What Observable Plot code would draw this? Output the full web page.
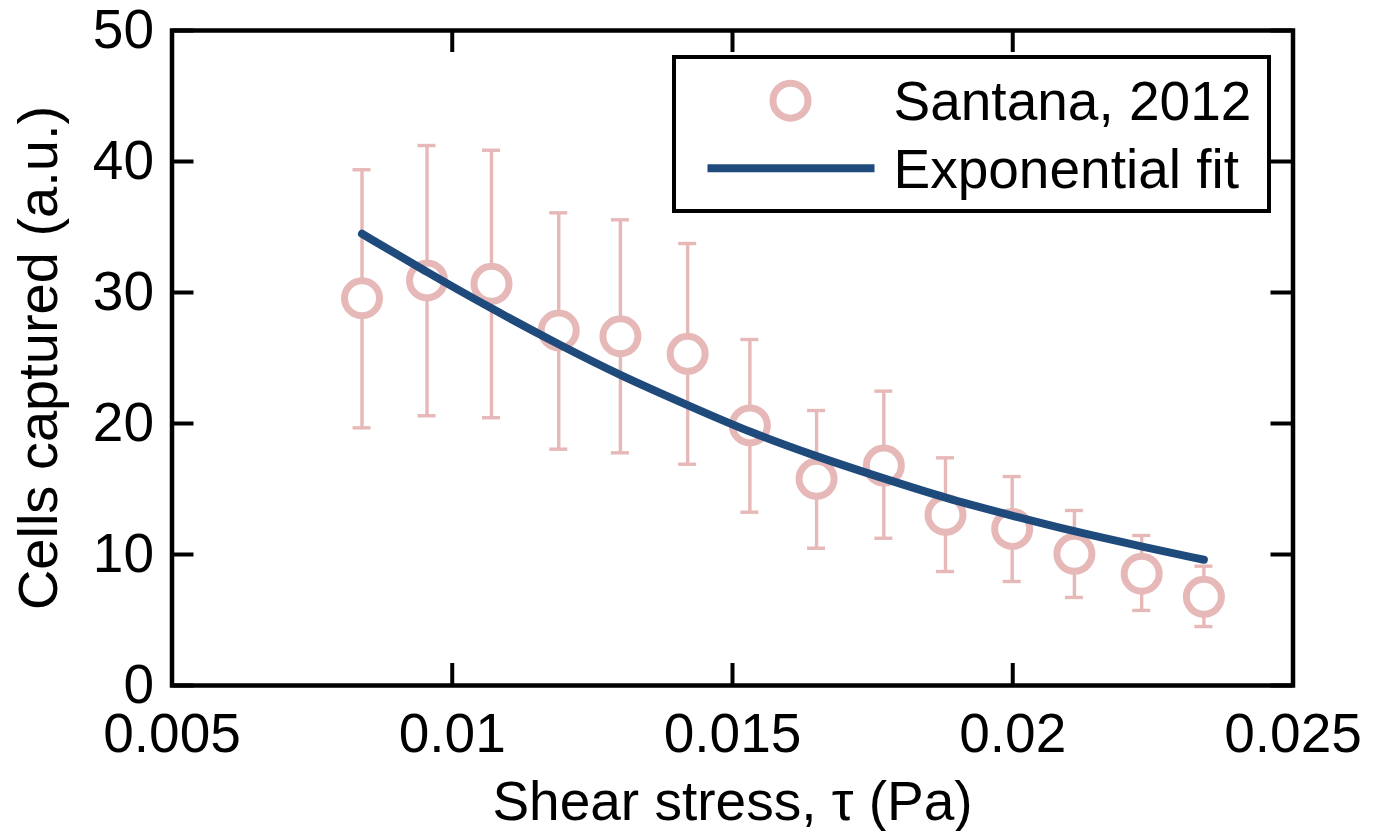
<!DOCTYPE html>
<html><head><meta charset="utf-8">
<script src="https://cdn.jsdelivr.net/npm/d3@7"></script>
<script src="https://cdn.jsdelivr.net/npm/@observablehq/plot@0.6"></script>
<style>
body{margin:0;background:#fff;}
#wrap{position:relative;width:1380px;height:831px;font-family:"Liberation Sans",Arial,sans-serif;}
#legend{position:absolute;left:672px;top:54.5px;width:591px;height:150.5px;border:4.5px solid #000;background:#fff;}
#legend svg{display:block;}
</style></head><body><div id="wrap"></div>
<script>
const shearStress = [0.00839, 0.00955, 0.01070, 0.01190, 0.01300, 0.01420, 0.01531, 0.01650, 0.01770, 0.01880, 0.01999, 0.02110, 0.02230, 0.02341];
const cellsMean   = [29.56, 30.92, 30.66, 27.10, 26.66, 25.32, 19.85, 15.78, 16.79, 13.03, 11.95, 10.05, 8.53, 6.77];
const cellsUpper  = [39.37, 41.22, 40.86, 36.08, 35.55, 33.74, 26.41, 20.99, 22.47, 17.38, 15.95, 13.36, 11.45, 9.11];
const cellsLower  = [19.67, 20.59, 20.44, 18.04, 17.76, 16.89, 13.23, 10.48, 11.24, 8.70, 7.94, 6.72, 5.73, 4.50];
const fitShear = [0.00839, 0.00955, 0.01070, 0.01190, 0.01300, 0.01420, 0.01532, 0.01651, 0.01770, 0.01880, 0.02000, 0.02110, 0.02231, 0.02341];
const fitCells = [34.48, 31.55, 28.76, 26.03, 23.66, 21.40, 19.31, 17.46, 15.80, 14.30, 12.95, 11.75, 10.60, 9.60];
const xTicks = [0.005, 0.01, 0.015, 0.02, 0.025];
const xTickLabels = ["0.005", "0.01", "0.015", "0.02", "0.025"];
const yTicks = [0, 10, 20, 30, 40, 50];
const seriesNames = ["Santana, 2012", "Exponential fit"];
const xLabel = "Shear stress, \u03c4 (Pa)";
const yLabel = "Cells captured (a.u.)";

const pink = "#e6b8b7";
const blue = "#1f4a7c";

const pts = shearStress.map((x, i) => ({x, y: cellsMean[i], hi: cellsUpper[i], lo: cellsLower[i]}));
const fit = fitShear.map((x, i) => ({x, y: fitCells[i]}));

const W = 1380, H = 831, mL = 171.5, mR = 87.5, mT = 30, mB = 146;
const iw = W - mL - mR, ih = H - mT - mB, tl = 22;

const chart = Plot.plot({
  width: W, height: H,
  marginLeft: mL, marginRight: mR, marginTop: mT, marginBottom: mB,
  style: {fontFamily: "'Liberation Sans', Arial, sans-serif", fontSize: "55px", color: "#000", background: "#fff"},
  x: {domain: [0.005, 0.025]},
  y: {domain: [0, 50]},
  marks: [
    Plot.ruleX(pts, {x: "x", y1: "lo", y2: "hi", stroke: pink, strokeWidth: 3.4}),
    Plot.ruleY(pts, {y: "hi", x1: "x", x2: "x", insetLeft: -9, insetRight: -9, stroke: pink, strokeWidth: 3.4}),
    Plot.ruleY(pts, {y: "lo", x1: "x", x2: "x", insetLeft: -9, insetRight: -9, stroke: pink, strokeWidth: 3.4}),
    Plot.dot(pts, {x: "x", y: "y", r: 17.5, stroke: pink, strokeWidth: 7, fill: "#fff"}),
    Plot.line(fit, {x: "x", y: "y", stroke: blue, strokeWidth: 8, curve: "basis"}),
    Plot.ruleX(xTicks, {x: d => d, insetTop: ih - tl, stroke: "#000", strokeWidth: 4}),
    Plot.ruleX(xTicks, {x: d => d, insetBottom: ih - tl, stroke: "#000", strokeWidth: 4}),
    Plot.ruleY(yTicks, {y: d => d, insetRight: iw - tl, stroke: "#000", strokeWidth: 4}),
    Plot.ruleY(yTicks, {y: d => d, insetLeft: iw - tl, stroke: "#000", strokeWidth: 4}),
    Plot.frame({stroke: "#000", strokeWidth: 4.5}),
    Plot.axisX(xTicks, {tickSize: 0, tickPadding: 27, fontSize: 55,
      tickFormat: d => xTickLabels[xTicks.indexOf(d)],
      label: xLabel, labelAnchor: "center", labelArrow: "none", labelOffset: 134}),
    Plot.axisY(yTicks, {tickSize: 0, tickPadding: 18, fontSize: 55,
      label: yLabel, labelAnchor: "center", labelArrow: "none", labelOffset: 155})
  ]
});

const wrap = document.getElementById("wrap");
wrap.appendChild(chart);
const yl = chart.querySelectorAll("g[aria-label='y-axis label'] text");
yl.forEach(t => t.setAttribute("font-size", "56"));

const legend = document.createElement("div");
legend.id = "legend";
legend.innerHTML = `<svg width="591" height="150.5" xmlns="http://www.w3.org/2000/svg" style="font-family:'Liberation Sans',Arial,sans-serif;font-size:55px">
  <circle cx="114.5" cy="41.7" r="17.5" fill="#fff" stroke="${pink}" stroke-width="7"></circle>
  <line x1="31.5" x2="198.5" y1="109.3" y2="109.3" stroke="${blue}" stroke-width="8"></line>
  <text x="217.5" y="61" fill="#000">${seriesNames[0]}</text>
  <text x="217.5" y="129" fill="#000">${seriesNames[1]}</text>
</svg>`;
wrap.appendChild(legend);
</script>
</body></html>
